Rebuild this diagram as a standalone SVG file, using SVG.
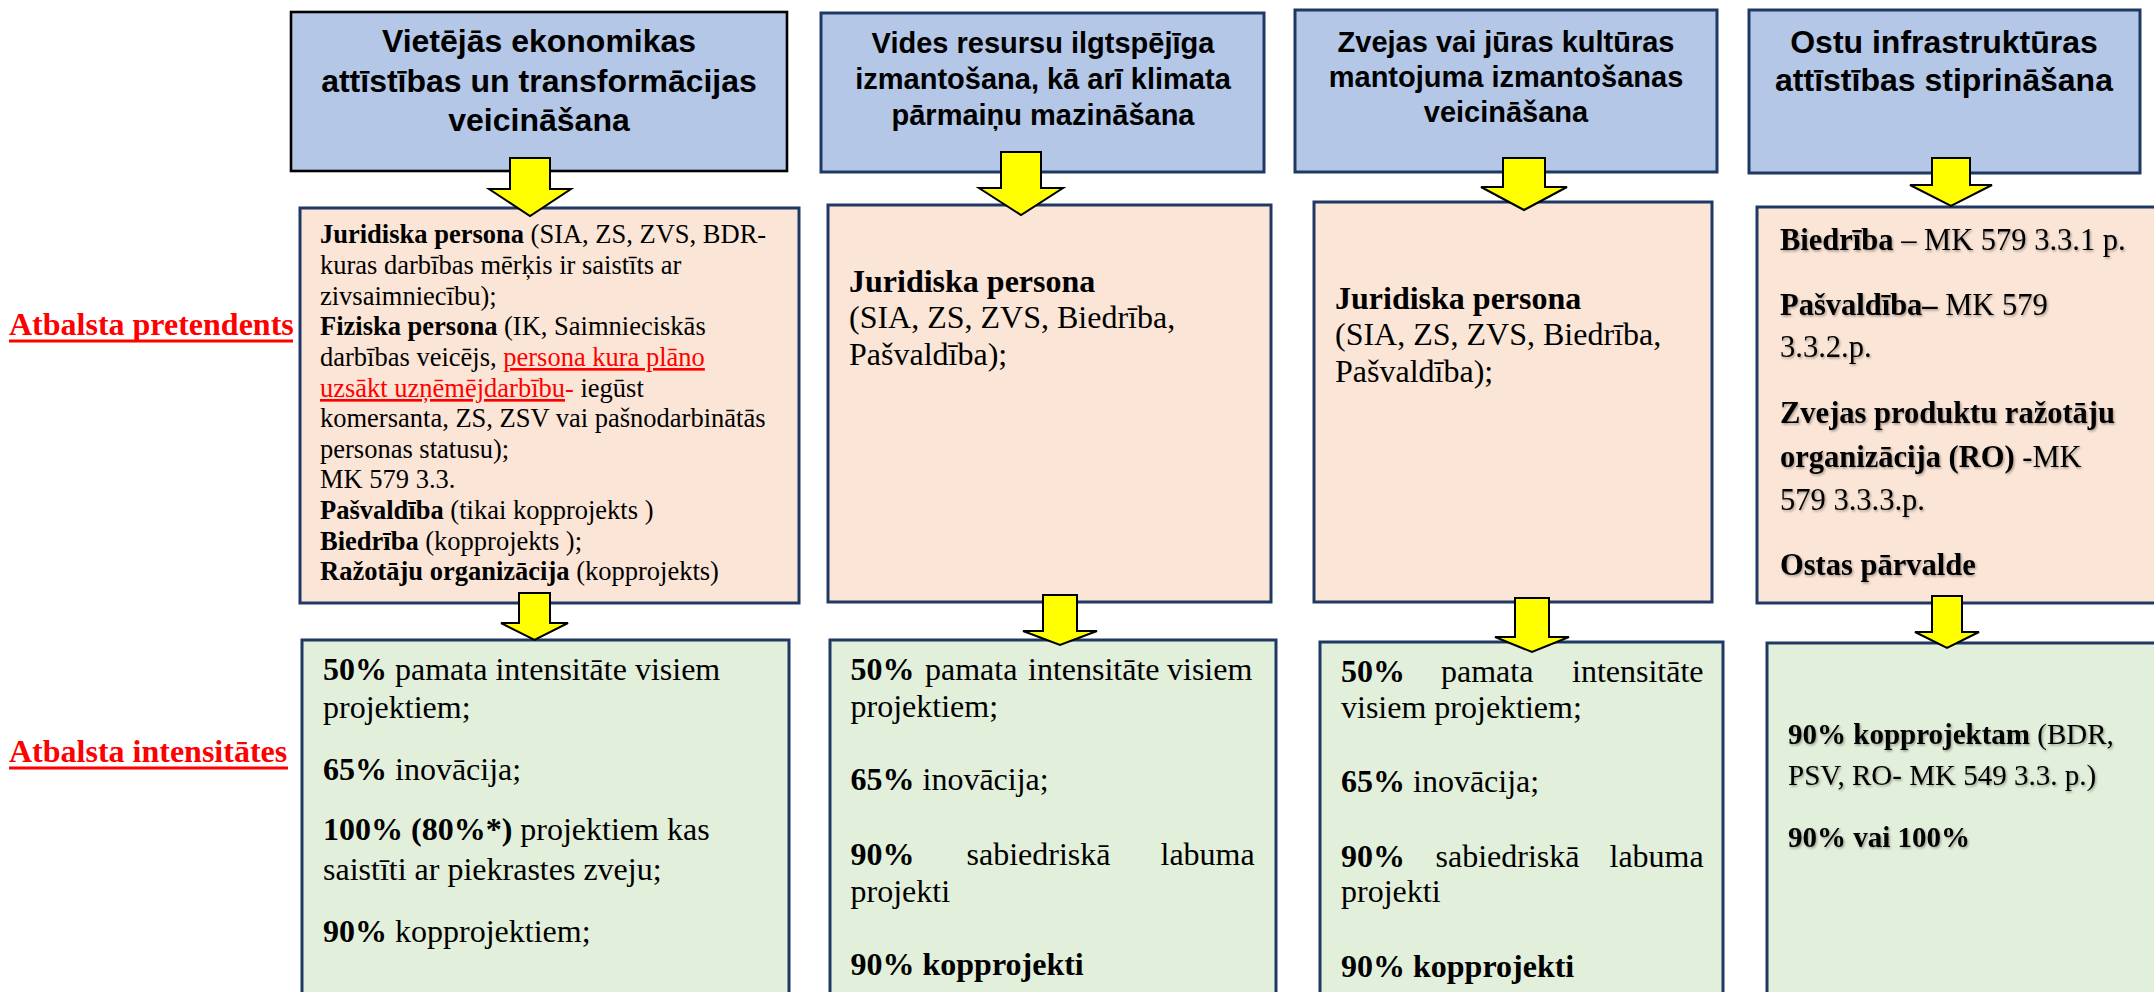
<svg xmlns="http://www.w3.org/2000/svg" width="2154" height="992" viewBox="0 0 2154 992">
<defs>
<style>
.hdr{fill:#B4C7E7;stroke:#1F3864;stroke-width:3}
.mid{fill:#FBE5D6;stroke:#1F3864;stroke-width:3}
.low{fill:#E2EFDA;stroke:#1F3864;stroke-width:3}
.ht{font-family:"Liberation Sans",Arial,sans-serif;font-weight:bold;fill:#000;text-anchor:middle}
.bt{font-family:"Liberation Serif","Times New Roman",serif;fill:#000}
.b{font-weight:bold}
.red{fill:#FF0000}
.ul{text-decoration:underline}
.lbl{font-family:"Liberation Serif","Times New Roman",serif;font-weight:bold;font-size:32px;fill:#FF0000}
.arr{fill:#FFFF00;stroke:#000;stroke-width:2;stroke-linejoin:miter}
</style>
<filter id="sh" x="-5%" y="-20%" width="110%" height="140%">
<feDropShadow dx="1.2" dy="1.5" stdDeviation="0.8" flood-color="#000" flood-opacity="0.35"/>
</filter>
</defs>
<rect width="2154" height="992" fill="#FFFFFF"/>

<g id="label-pretendents">
<text class="lbl" x="9" y="335">Atbalsta pretendents</text>
<line x1="9" y1="341" x2="293" y2="341" stroke="#FF0000" stroke-width="3"/>
</g>
<g id="label-intensitates">
<text class="lbl" x="9" y="762">Atbalsta intensitātes</text>
<line x1="9" y1="768" x2="288" y2="768" stroke="#FF0000" stroke-width="3"/>
</g>

<g id="h1">
<rect class="hdr" x="291" y="12" width="496" height="159" style="stroke:#000;stroke-width:2.6"/>
<text class="ht" font-size="32" x="539"><tspan x="539" y="52">Vietējās ekonomikas</tspan><tspan x="539" y="92">attīstības un transformācijas</tspan><tspan x="539" y="131">veicināšana</tspan></text>
</g>
<g id="h2">
<rect class="hdr" x="821" y="13" width="443" height="159"/>
<text class="ht" font-size="29" x="1043"><tspan x="1043" y="53">Vides resursu ilgtspējīga</tspan><tspan x="1043" y="89">izmantošana, kā arī klimata</tspan><tspan x="1043" y="125">pārmaiņu mazināšana</tspan></text>
</g>
<g id="h3">
<rect class="hdr" x="1295" y="10" width="422" height="162"/>
<text class="ht" font-size="29" x="1506"><tspan x="1506" y="52">Zvejas vai jūras kultūras</tspan><tspan x="1506" y="87">mantojuma izmantošanas</tspan><tspan x="1506" y="122">veicināšana</tspan></text>
</g>
<g id="h4">
<rect class="hdr" x="1749" y="10" width="391" height="163"/>
<text class="ht" font-size="32" x="1944"><tspan x="1944" y="53">Ostu infrastruktūras</tspan><tspan x="1944" y="91">attīstības stiprināšana</tspan></text>
</g>

<g id="m1">
<rect class="mid" x="300" y="208" width="499" height="395"/>
<text class="bt" font-size="26.5">
<tspan x="320" y="243"><tspan class="b">Juridiska persona</tspan> (SIA, ZS, ZVS, BDR-</tspan>
<tspan x="320" y="274">kuras darbības mērķis ir saistīts ar</tspan>
<tspan x="320" y="305">zivsaimniecību);</tspan>
<tspan x="320" y="335"><tspan class="b">Fiziska persona</tspan> (IK, Saimnieciskās</tspan>
<tspan x="320" y="366">darbības veicējs, <tspan class="red ul">persona kura plāno</tspan></tspan>
<tspan x="320" y="397"><tspan class="red ul">uzsākt uzņēmējdarbību</tspan><tspan class="red">-</tspan> iegūst</tspan>
<tspan x="320" y="427">komersanta, ZS, ZSV vai pašnodarbinātās</tspan>
<tspan x="320" y="458">personas statusu);</tspan>
<tspan x="320" y="488">MK 579 3.3.</tspan>
<tspan x="320" y="519"><tspan class="b">Pašvaldība</tspan> (tikai kopprojekts )</tspan>
<tspan x="320" y="550"><tspan class="b">Biedrība</tspan> (kopprojekts );</tspan>
<tspan x="320" y="580"><tspan class="b">Ražotāju organizācija</tspan> (kopprojekts)</tspan>
</text>
</g>
<g id="m2">
<rect class="mid" x="828" y="205" width="443" height="397"/>
<text class="bt" font-size="32">
<tspan x="849" y="292" class="b">Juridiska persona</tspan>
<tspan x="849" y="328">(SIA, ZS, ZVS, Biedrība,</tspan>
<tspan x="849" y="365">Pašvaldība);</tspan>
</text>
</g>
<g id="m3">
<rect class="mid" x="1314" y="202" width="398" height="400"/>
<text class="bt" font-size="32">
<tspan x="1335" y="309" class="b">Juridiska persona</tspan>
<tspan x="1335" y="345">(SIA, ZS, ZVS, Biedrība,</tspan>
<tspan x="1335" y="382">Pašvaldība);</tspan>
</text>
</g>
<g id="m4">
<rect class="mid" x="1757" y="207" width="410" height="396"/>
<text class="bt" font-size="30.5" filter="url(#sh)">
<tspan x="1780" y="250"><tspan class="b">Biedrība</tspan> – MK 579 3.3.1 p.</tspan>
<tspan x="1780" y="315"><tspan class="b">Pašvaldība–</tspan> MK 579</tspan>
<tspan x="1780" y="357">3.3.2.p.</tspan>
<tspan x="1780" y="423" class="b">Zvejas produktu ražotāju</tspan>
<tspan x="1780" y="467"><tspan class="b">organizācija (RO)</tspan> -MK</tspan>
<tspan x="1780" y="510">579 3.3.3.p.</tspan>
<tspan x="1780" y="575" class="b">Ostas pārvalde</tspan>
</text>
</g>

<g id="l1">
<rect class="low" x="302" y="640" width="487" height="360"/>
<text class="bt" font-size="32">
<tspan x="323" y="680"><tspan class="b">50%</tspan> pamata intensitāte visiem</tspan>
<tspan x="323" y="718">projektiem;</tspan>
<tspan x="323" y="780"><tspan class="b">65%</tspan> inovācija;</tspan>
<tspan x="323" y="840"><tspan class="b">100% (80%*)</tspan> projektiem kas</tspan>
<tspan x="323" y="880">saistīti ar piekrastes zveju;</tspan>
<tspan x="323" y="942"><tspan class="b">90%</tspan> kopprojektiem;</tspan>
</text>
</g>
<g id="l2">
<rect class="low" x="830" y="640" width="446" height="360"/>
<text class="bt" font-size="32">
<tspan x="850.5" y="680" class="b">50%</tspan><tspan x="925" y="680">pamata</tspan><tspan x="1028" y="680">intensitāte</tspan><tspan x="1167" y="680">visiem</tspan>
<tspan x="850.5" y="717">projektiem;</tspan>
<tspan x="850.5" y="790"><tspan class="b">65%</tspan> inovācija;</tspan>
<tspan x="850.5" y="865" class="b">90%</tspan><tspan x="966.5" y="865">sabiedriskā</tspan><tspan x="1160.5" y="865">labuma</tspan>
<tspan x="850.5" y="902">projekti</tspan>
<tspan x="850.5" y="975" class="b">90% kopprojekti</tspan>
</text>
</g>
<g id="l3">
<rect class="low" x="1320" y="642" width="403" height="358"/>
<text class="bt" font-size="32">
<tspan x="1341" y="682" class="b">50%</tspan><tspan x="1441" y="682">pamata</tspan><tspan x="1572" y="682">intensitāte</tspan>
<tspan x="1341" y="718">visiem projektiem;</tspan>
<tspan x="1341" y="792"><tspan class="b">65%</tspan> inovācija;</tspan>
<tspan x="1341" y="867" class="b">90%</tspan><tspan x="1435.5" y="867">sabiedriskā</tspan><tspan x="1609.5" y="867">labuma</tspan>
<tspan x="1341" y="902">projekti</tspan>
<tspan x="1341" y="977" class="b">90% kopprojekti</tspan>
</text>
</g>
<g id="l4">
<rect class="low" x="1767" y="643" width="400" height="357"/>
<text class="bt" font-size="29" filter="url(#sh)">
<tspan x="1788" y="744"><tspan class="b">90% kopprojektam</tspan> (BDR,</tspan>
<tspan x="1788" y="785">PSV, RO- MK 549 3.3. p.)</tspan>
<tspan x="1788" y="847" class="b">90% vai 100%</tspan>
</text>
</g>

<g id="connectors">
<path class="arr" d="M510,158 H550 V189 H571 L530,216 L489,189 H510 Z"/>
<path class="arr" d="M1001,152 H1041 V188 H1063 L1021,215 L979,188 H1001 Z"/>
<path class="arr" d="M1503,158 H1545 V187 H1567 L1524,210 L1481,187 H1503 Z"/>
<path class="arr" d="M1932,158 H1970 V185 H1992 L1951,206 L1910,185 H1932 Z"/>
<path class="arr" d="M519,593 H550 V623 H568 L534.5,640 L501,623 H519 Z"/>
<path class="arr" d="M1043,595 H1077 V631 H1097 L1060,645 L1023,631 H1043 Z"/>
<path class="arr" d="M1515,598 H1549 V637 H1569 L1532,652 L1495,637 H1515 Z"/>
<path class="arr" d="M1932,596 H1962 V632 H1979 L1947,648 L1915,632 H1932 Z"/>
</g>
</svg>
